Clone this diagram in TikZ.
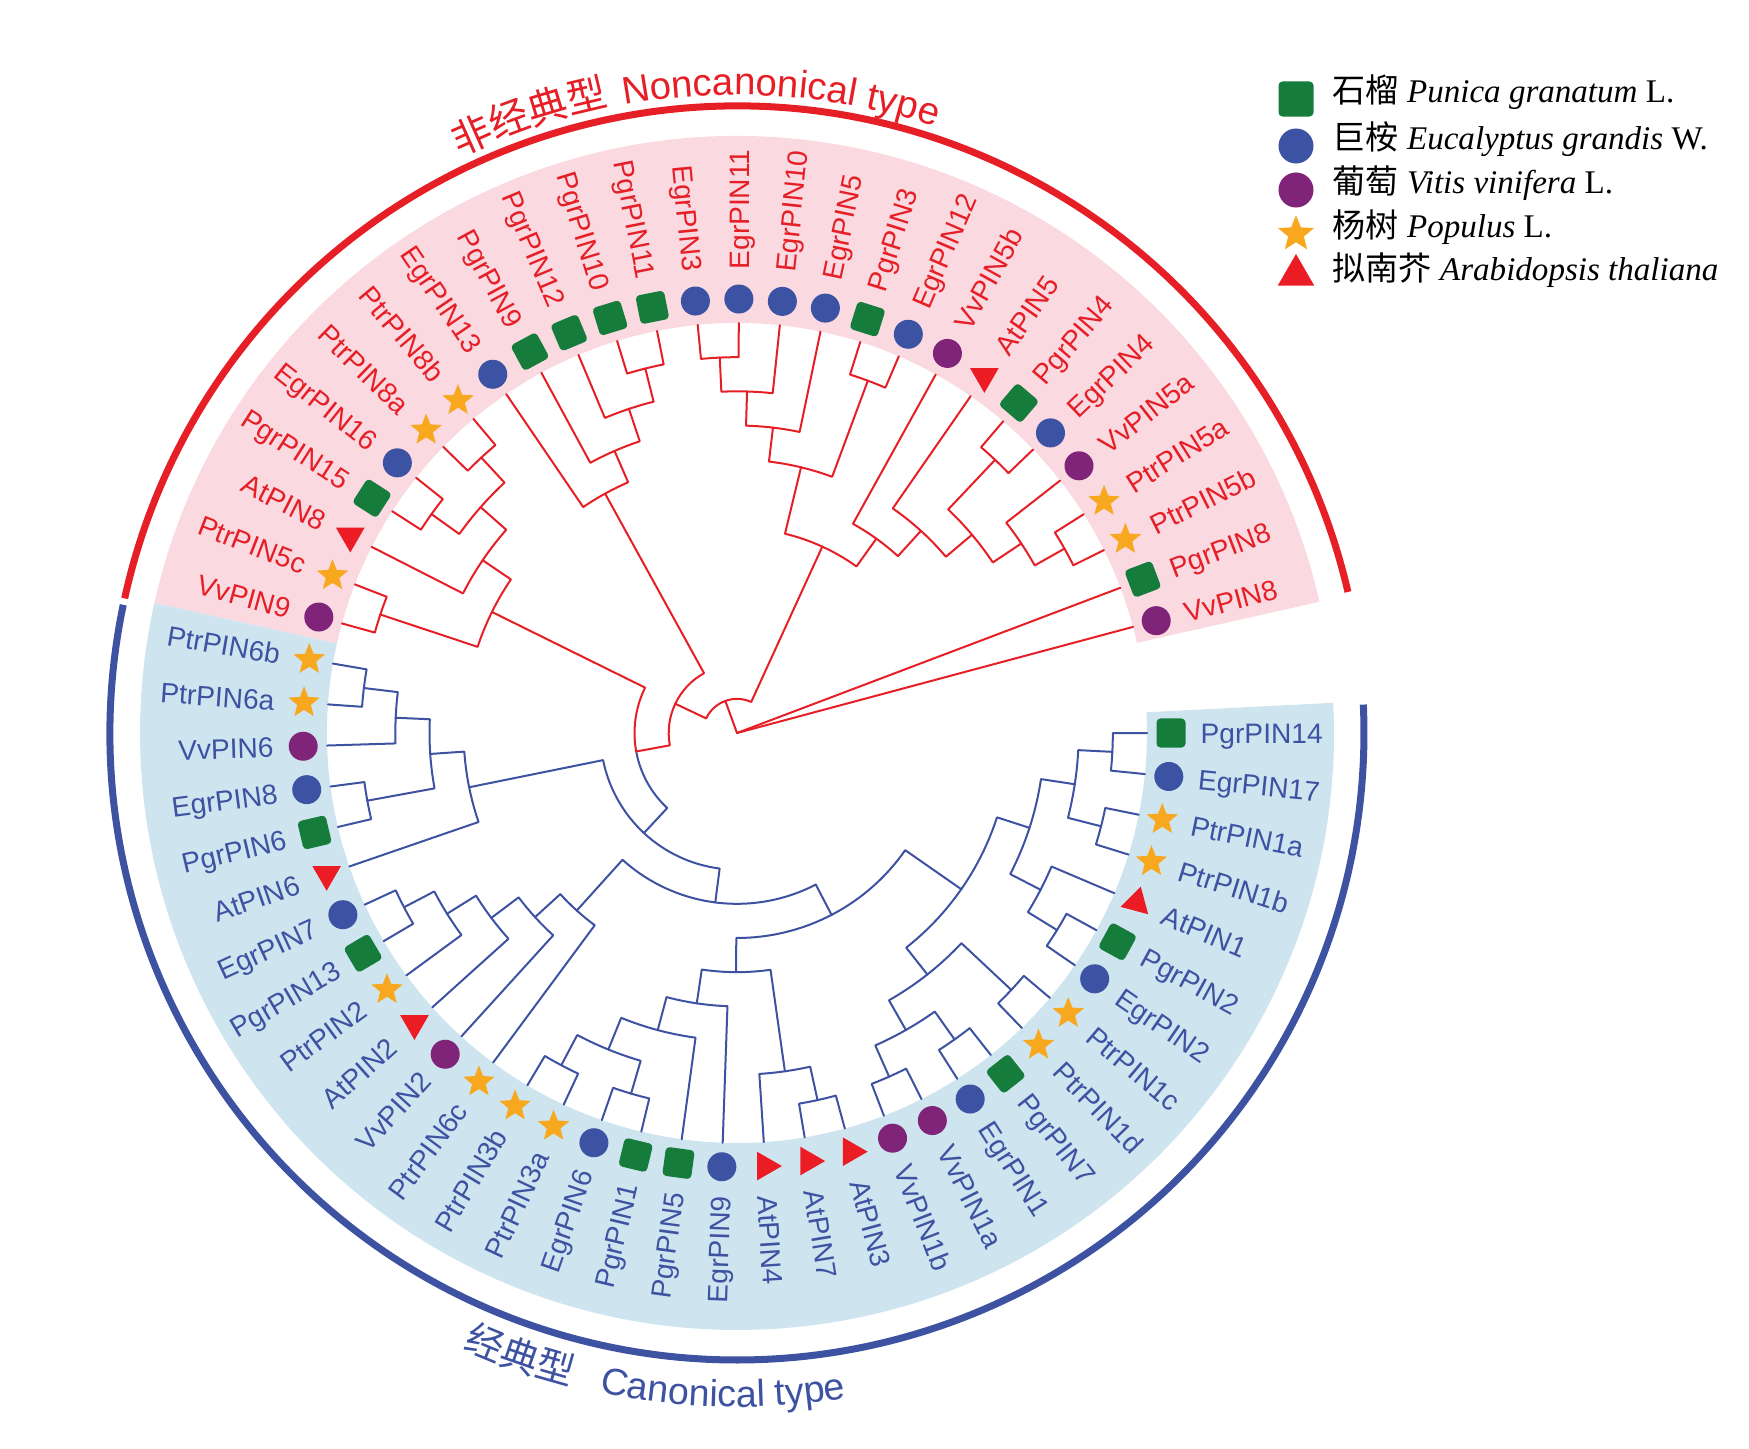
\documentclass[tikz,border=0pt]{standalone}
\usepackage{fontspec}
\setmainfont{Liberation Serif}
\setsansfont{Liberation Sans}
\newfontfamily\cjk{Noto Sans CJK SC}
\usetikzlibrary{shapes.geometric,decorations.text}

\definecolor{treered}{RGB}{230,30,38}
\definecolor{treeblue}{RGB}{62,82,162}
\definecolor{bandpink}{RGB}{250,217,225}
\definecolor{bandblue}{RGB}{206,229,240}
\definecolor{pgrgreen}{RGB}{22,124,60}
\definecolor{egrblue}{RGB}{60,82,162}
\definecolor{vvpurple}{RGB}{128,36,122}
\definecolor{ptrorange}{RGB}{247,168,30}
\definecolor{atred}{RGB}{236,28,36}

% leaf: name, index, colour, marker style
\newcommand{\leaf}[4]{%
  \pgfmathsetmacro\lfa{15+5.75*#2}%
  \expandafter\xdef\csname angX#1\endcsname{\lfa}%
  \expandafter\xdef\csname levX#1\endcsname{0}%
  \expandafter\xdef\csname colX#1\endcsname{#3}%
  \coordinate (#1) at (\lfa:410);
  \node[#4] (mk#1) at (\lfa:434) {};
  \ifdim\lfa pt>90pt
    \ifdim\lfa pt<270pt
      \node[lbl, text=#3, rotate=\lfa-180, anchor=east] (lb#1) at (\lfa:463) {#1};
    \else
      \node[lbl, text=#3, rotate=\lfa, anchor=west] (lb#1) at (\lfa:463) {#1};
    \fi
  \else
    \node[lbl, text=#3, rotate=\lfa, anchor=west] (lb#1) at (\lfa:463) {#1};
  \fi
}

% join: parent, colour, child a, child b
\newcommand{\join}[4]{%
  \edef\jaa{\csname angX#3\endcsname}\edef\jab{\csname angX#4\endcsname}%
  \edef\jla{\csname levX#3\endcsname}\edef\jlb{\csname levX#4\endcsname}%
  \edef\jca{\csname colX#3\endcsname}\edef\jcb{\csname colX#4\endcsname}%
  \pgfmathtruncatemacro\jl{max(\jla,\jlb)+1}%
  \pgfmathsetmacro\jm{(\jaa+\jab)/2}%
  \pgfmathsetmacro\jr{410-34.17*\jl}%
  \draw[branch, draw=\jca] (#3) -- (\jaa:\jr) arc[start angle=\jaa, end angle=\jm, radius=\jr];
  \draw[branch, draw=\jcb] (#4) -- (\jab:\jr) arc[start angle=\jab, end angle=\jm, radius=\jr];
  \coordinate (#1) at (\jm:\jr);
  \expandafter\xdef\csname angX#1\endcsname{\jm}%
  \expandafter\xdef\csname levX#1\endcsname{\jl}%
  \expandafter\xdef\csname colX#1\endcsname{#2}%
}

\begin{document}
\begin{tikzpicture}[
  x=0.01cm, y=0.01cm,
  branch/.style={line width=0.02cm, line cap=round, line join=round},
  lbl/.style={font=\sffamily\fontsize{8}{9.5}\selectfont, inner sep=0pt, text height=5.7pt, text depth=0pt},
  keytext/.style={font=\rmfamily\fontsize{9.4}{11}\selectfont, inner sep=0pt},
  pgrbase/.style={rectangle, rounded corners=0.04cm, fill=pgrgreen, inner sep=0pt},
  egrbase/.style={circle, fill=egrblue, inner sep=0pt},
  vvbase/.style={circle, fill=vvpurple, inner sep=0pt},
  ptrbase/.style={star, star points=5, star point ratio=2.3, fill=ptrorange, inner sep=0pt},
  atbase/.style={regular polygon, regular polygon sides=3, fill=atred, inner sep=0pt},
  pgrmark/.style={pgrbase, minimum size=0.29cm, rotate=\lfa},
  egrmark/.style={egrbase, minimum size=0.29cm},
  vvmark/.style={vvbase, minimum size=0.29cm},
  ptrmark/.style={ptrbase, minimum size=0.33cm},
  atmark/.style={atbase, minimum size=0.33cm, rotate=#1},
  atmark/.default=0
]
\useasboundingbox (-737,-715) rectangle (1012,733);

% coloured bands
\fill[bandpink] (12.7:410) arc[start angle=12.7, end angle=167.4, radius=410]
  -- (167.4:597) arc[start angle=167.4, end angle=12.7, radius=597] -- cycle;
\fill[bandblue] (167.4:410) arc[start angle=167.4, end angle=362.9, radius=410]
  -- (362.9:597) arc[start angle=362.9, end angle=167.4, radius=597] -- cycle;

% outer arcs
\draw[treered, line width=0.07cm] (13:627) arc[start angle=13, end angle=167.6, radius=627];
\draw[treeblue, line width=0.07cm] (168.2:627) arc[start angle=168.2, end angle=362.6, radius=627];

% titles
\path[decorate, decoration={text along path, text align=left,
  text={|\cjk\fontsize{11.3}{13}\selectfont\color{treered}|非经典型}}]
  (115.7:640) arc[start angle=115.7, end angle=90, radius=640];
\path[decorate, decoration={text along path, text align=left,
  text={|\sffamily\fontsize{10.9}{13}\selectfont\color{treered}|Noncanonical type}}]
  (100.2:638) arc[start angle=100.2, end angle=60, radius=638];
\path[decorate, decoration={text along path, text align=left,
  text={|\cjk\fontsize{10.8}{13}\selectfont\color{treeblue}|经典型}}]
  (246:674) arc[start angle=246, end angle=262, radius=674];
\path[decorate, decoration={text along path, text align=left,
  text={|\sffamily\fontsize{10.7}{13}\selectfont\color{treeblue}|Canonical type}}]
  (258.2:674) arc[start angle=258.2, end angle=290, radius=674];

% leaves, noncanonical
\leaf{VvPIN8}{0}{treered}{vvmark}
\leaf{PgrPIN8}{1}{treered}{pgrmark}
\leaf{PtrPIN5b}{2}{treered}{ptrmark}
\leaf{PtrPIN5a}{3}{treered}{ptrmark}
\leaf{VvPIN5a}{4}{treered}{vvmark}
\leaf{EgrPIN4}{5}{treered}{egrmark}
\leaf{PgrPIN4}{6}{treered}{pgrmark}
\leaf{AtPIN5}{7}{treered}{atmark=180}
\leaf{VvPIN5b}{8}{treered}{vvmark}
\leaf{EgrPIN12}{9}{treered}{egrmark}
\leaf{PgrPIN3}{10}{treered}{pgrmark}
\leaf{EgrPIN5}{11}{treered}{egrmark}
\leaf{EgrPIN10}{12}{treered}{egrmark}
\leaf{EgrPIN11}{13}{treered}{egrmark}
\leaf{EgrPIN3}{14}{treered}{egrmark}
\leaf{PgrPIN11}{15}{treered}{pgrmark}
\leaf{PgrPIN10}{16}{treered}{pgrmark}
\leaf{PgrPIN12}{17}{treered}{pgrmark}
\leaf{PgrPIN9}{18}{treered}{pgrmark}
\leaf{EgrPIN13}{19}{treered}{egrmark}
\leaf{PtrPIN8b}{20}{treered}{ptrmark}
\leaf{PtrPIN8a}{21}{treered}{ptrmark}
\leaf{EgrPIN16}{22}{treered}{egrmark}
\leaf{PgrPIN15}{23}{treered}{pgrmark}
\leaf{AtPIN8}{24}{treered}{atmark=180}
\leaf{PtrPIN5c}{25}{treered}{ptrmark}
\leaf{VvPIN9}{26}{treered}{vvmark}
% leaves, canonical
\leaf{PtrPIN6b}{27}{treeblue}{ptrmark}
\leaf{PtrPIN6a}{28}{treeblue}{ptrmark}
\leaf{VvPIN6}{29}{treeblue}{vvmark}
\leaf{EgrPIN8}{30}{treeblue}{egrmark}
\leaf{PgrPIN6}{31}{treeblue}{pgrmark}
\leaf{AtPIN6}{32}{treeblue}{atmark=180}
\leaf{EgrPIN7}{33}{treeblue}{egrmark}
\leaf{PgrPIN13}{34}{treeblue}{pgrmark}
\leaf{PtrPIN2}{35}{treeblue}{ptrmark}
\leaf{AtPIN2}{36}{treeblue}{atmark=180}
\leaf{VvPIN2}{37}{treeblue}{vvmark}
\leaf{PtrPIN6c}{38}{treeblue}{ptrmark}
\leaf{PtrPIN3b}{39}{treeblue}{ptrmark}
\leaf{PtrPIN3a}{40}{treeblue}{ptrmark}
\leaf{EgrPIN6}{41}{treeblue}{egrmark}
\leaf{PgrPIN1}{42}{treeblue}{pgrmark}
\leaf{PgrPIN5}{43}{treeblue}{pgrmark}
\leaf{EgrPIN9}{44}{treeblue}{egrmark}
\leaf{AtPIN4}{45}{treeblue}{atmark=-90}
\leaf{AtPIN7}{46}{treeblue}{atmark=-90}
\leaf{AtPIN3}{47}{treeblue}{atmark=-90}
\leaf{VvPIN1b}{48}{treeblue}{vvmark}
\leaf{VvPIN1a}{49}{treeblue}{vvmark}
\leaf{EgrPIN1}{50}{treeblue}{egrmark}
\leaf{PgrPIN7}{51}{treeblue}{pgrmark}
\leaf{PtrPIN1d}{52}{treeblue}{ptrmark}
\leaf{PtrPIN1c}{53}{treeblue}{ptrmark}
\leaf{EgrPIN2}{54}{treeblue}{egrmark}
\leaf{PgrPIN2}{55}{treeblue}{pgrmark}
\leaf{AtPIN1}{56}{treeblue}{atmark=-15}
\leaf{PtrPIN1b}{57}{treeblue}{ptrmark}
\leaf{PtrPIN1a}{58}{treeblue}{ptrmark}
\leaf{EgrPIN17}{59}{treeblue}{egrmark}
\leaf{PgrPIN14}{60}{treeblue}{pgrmark}

% noncanonical clades
\join{n2n3}{treered}{PtrPIN5b}{PtrPIN5a}
\join{n2n4}{treered}{n2n3}{VvPIN5a}
\join{n5n6}{treered}{EgrPIN4}{PgrPIN4}
\join{n2n6}{treered}{n2n4}{n5n6}
\join{n2n7}{treered}{n2n6}{AtPIN5}
\join{n2n8}{treered}{n2n7}{VvPIN5b}
\join{n9n10}{treered}{EgrPIN12}{PgrPIN3}
\join{n13n14}{treered}{EgrPIN11}{EgrPIN3}
\join{n12n14}{treered}{EgrPIN10}{n13n14}
\join{n11n14}{treered}{EgrPIN5}{n12n14}
\join{n9n14}{treered}{n9n10}{n11n14}
\join{n2n14}{treered}{n2n8}{n9n14}
\join{n15n16}{treered}{PgrPIN11}{PgrPIN10}
\join{n15n17}{treered}{n15n16}{PgrPIN12}
\join{n15n18}{treered}{n15n17}{PgrPIN9}
\join{n15n19}{treered}{n15n18}{EgrPIN13}
\join{n20n21}{treered}{PtrPIN8b}{PtrPIN8a}
\join{n22n23}{treered}{EgrPIN16}{PgrPIN15}
\join{n20n23}{treered}{n20n21}{n22n23}
\join{n20n24}{treered}{n20n23}{AtPIN8}
\join{n25n26}{treered}{PtrPIN5c}{VvPIN9}
\join{n20n26}{treered}{n20n24}{n25n26}

% canonical clades
\join{n27n28}{treeblue}{PtrPIN6b}{PtrPIN6a}
\join{n27n29}{treeblue}{n27n28}{VvPIN6}
\join{n30n31}{treeblue}{EgrPIN8}{PgrPIN6}
\join{n27n31}{treeblue}{n27n29}{n30n31}
\join{n27n32}{treeblue}{n27n31}{AtPIN6}
\join{n33n34}{treeblue}{EgrPIN7}{PgrPIN13}
\join{n33n35}{treeblue}{n33n34}{PtrPIN2}
\join{n33n36}{treeblue}{n33n35}{AtPIN2}
\join{n33n37}{treeblue}{n33n36}{VvPIN2}
\join{n33n38}{treeblue}{n33n37}{PtrPIN6c}
\join{n39n40}{treeblue}{PtrPIN3b}{PtrPIN3a}
\join{n41n42}{treeblue}{EgrPIN6}{PgrPIN1}
\join{n39n42}{treeblue}{n39n40}{n41n42}
\join{n39n43}{treeblue}{n39n42}{PgrPIN5}
\join{n39n44}{treeblue}{n39n43}{EgrPIN9}
\join{n46n47}{treeblue}{AtPIN7}{AtPIN3}
\join{n45n47}{treeblue}{AtPIN4}{n46n47}
\join{n39n47}{treeblue}{n39n44}{n45n47}
\join{n48n49}{treeblue}{VvPIN1b}{VvPIN1a}
\join{n50n51}{treeblue}{EgrPIN1}{PgrPIN7}
\join{n48n51}{treeblue}{n48n49}{n50n51}
\join{n52n53}{treeblue}{PtrPIN1d}{PtrPIN1c}
\join{n48n53}{treeblue}{n48n51}{n52n53}
\join{n54n55}{treeblue}{EgrPIN2}{PgrPIN2}
\join{n54n56}{treeblue}{n54n55}{AtPIN1}
\join{n57n58}{treeblue}{PtrPIN1b}{PtrPIN1a}
\join{n59n60}{treeblue}{EgrPIN17}{PgrPIN14}
\join{n57n60}{treeblue}{n57n58}{n59n60}
\join{n54n60}{treeblue}{n54n56}{n57n60}
\join{n48n60}{treeblue}{n48n53}{n54n60}
\join{n39n60}{treeblue}{n39n47}{n48n60}
\join{n33n60}{treeblue}{n33n38}{n39n60}
\join{n27n60}{treeblue}{n27n32}{n33n60}

% deep nodes
\join{n20n60}{treered}{n20n26}{n27n60}
\join{n15n60}{treered}{n15n19}{n20n60}
\join{n2n60}{treered}{n2n14}{n15n60}
\coordinate (root) at (0,0);
\draw[branch, treered] (root) -- (n2n60);
\draw[branch, treered] (root) -- (PgrPIN8);
\draw[branch, treered] (root) -- (VvPIN8);

% legend
\node[pgrbase, minimum size=0.35cm] (keypgr) at (559,634) {};
\node[egrbase, minimum size=0.35cm] (keyegr) at (559,587) {};
\node[vvbase, minimum size=0.35cm] (keyvv) at (559,543) {};
\node[ptrbase, minimum size=0.38cm] (keyptr) at (559,499) {};
\node[atbase, minimum size=0.42cm] (keyat) at (559,458) {};
\node[keytext, anchor=base west] (txtpgr) at (595,630) {{\cjk 石榴} \textit{Punica granatum} L.};
\node[keytext, anchor=base west] (txtegr) at (595,583) {{\cjk 巨桉} \textit{Eucalyptus grandis} W.};
\node[keytext, anchor=base west] (txtvv) at (595,539) {{\cjk 葡萄} \textit{Vitis vinifera} L.};
\node[keytext, anchor=base west] (txtptr) at (595,495) {{\cjk 杨树} \textit{Populus} L.};
\node[keytext, anchor=base west] (txtat) at (595,452) {{\cjk 拟南芥} \textit{Arabidopsis thaliana}};

\end{tikzpicture}
\end{document}
